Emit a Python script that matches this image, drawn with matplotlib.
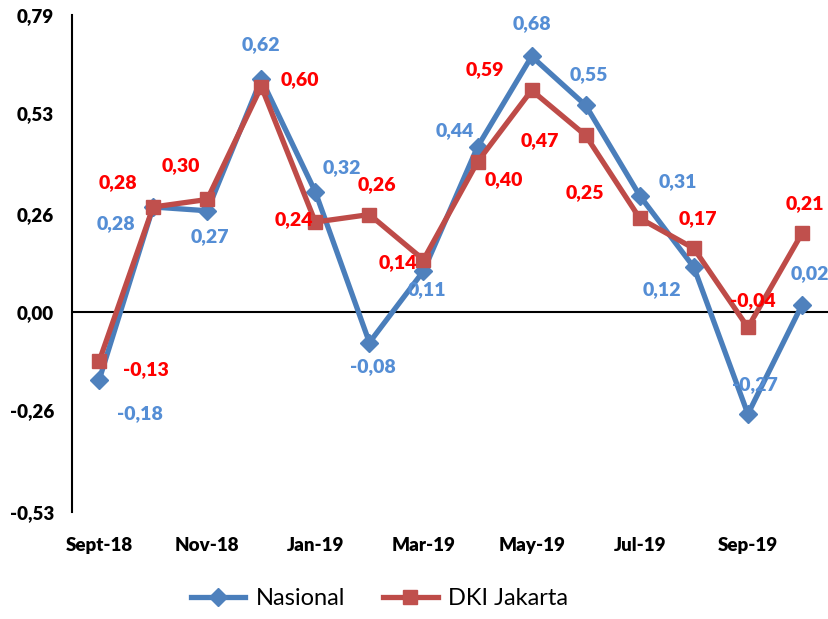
import matplotlib
matplotlib.use("Agg")
import matplotlib.pyplot as plt
from matplotlib.ticker import FixedLocator

plt.rcParams["font.family"] = ["Lato", "DejaVu Sans"]

# ---------------------------------------------------------------------------
# Dados
# ---------------------------------------------------------------------------
bulan = ["Sept-18", "Oct-18", "Nov-18", "Dec-18", "Jan-19", "Feb-19", "Mar-19",
         "Apr-19", "May-19", "Jun-19", "Jul-19", "Aug-19", "Sep-19", "Oct-19"]
nasional = [-0.18, 0.28, 0.27, 0.62, 0.32, -0.08, 0.11, 0.44, 0.68, 0.55,
            0.31, 0.12, -0.27, 0.02]
dki = [-0.13, 0.28, 0.30, 0.60, 0.24, 0.26, 0.14, 0.40, 0.59, 0.47,
       0.25, 0.17, -0.04, 0.21]
y_ticks = [-0.53, -0.26, 0.00, 0.26, 0.53, 0.79]

# posisi label (offset dalam pixel: dx, dy ke bawah)
off_nas = [(41, 33), (-37, 17), (3, 26), (0, -34), (27, -24), (3, 24), (3, 19),
           (-23, -16), (0, -33), (3, -31), (38, -14), (-32, 22), (7, -29), (8, -31)]
off_dki = [(47, 8), (-35, -24), (-26, -34), (39, -7), (-21, -2), (8, -30), (-26, 3),
           (26, 18), (-47, -21), (-46, 5), (-55, -26), (4, -30), (5, -27), (3, -30)]

fmt = lambda v: f"{v:.2f}".replace(".", ",")

fig = plt.figure(figsize=(8.29, 6.19), dpi=100)
ax = fig.add_axes([0.0869, 0.1729, 0.9131, 0.8029])

x = list(range(len(bulan)))
ax.axhline(0, color="black", lw=1.5, zorder=1)
ax.plot(x, nasional, color="#4A7EBB", lw=3.8, marker="D", ms=9,
        mfc="#4F81BD", mec="#4F81BD", label="Nasional", zorder=3)
ax.plot(x, dki, color="#BE4B48", lw=3.8, marker="s", ms=10,
        mfc="#C0504D", mec="#C0504D", label="DKI Jakarta", zorder=4)

for i, v in enumerate(nasional):
    dx, dy = off_nas[i]
    ax.annotate(fmt(v), (i, v), xytext=(dx * 0.72, -dy * 0.72), textcoords="offset points",
                ha="center", va="center", fontsize=14, fontweight="heavy",
                color="#558ED5", zorder=5)
for i, v in enumerate(dki):
    dx, dy = off_dki[i]
    ax.annotate(fmt(v), (i, v), xytext=(dx * 0.72, -dy * 0.72), textcoords="offset points",
                ha="center", va="center", fontsize=14, fontweight="heavy",
                color="#FF0000", zorder=5)

ax.set_xlim(-0.5, len(bulan) - 0.5)
ax.set_ylim(y_ticks[0], y_ticks[-1])
ax.yaxis.set_major_locator(FixedLocator(y_ticks))
ax.set_yticklabels([fmt(t) for t in y_ticks])
ax.set_xticks(x[::2])
ax.set_xticklabels(bulan[::2])
ax.tick_params(axis="both", length=0, labelsize=13.5)
ax.tick_params(axis="y", pad=13)
ax.tick_params(axis="x", pad=18)
for lbl in ax.get_xticklabels() + ax.get_yticklabels():
    lbl.set_fontweight("heavy")

for s in ["top", "right", "bottom"]:
    ax.spines[s].set_visible(False)
ax.spines["left"].set_linewidth(1.5)

fig.legend(loc="lower center", bbox_to_anchor=(0.458, -0.018), ncol=2, frameon=False,
           fontsize=17, handlelength=2.3, handletextpad=0.45, columnspacing=1.6)

fig.savefig("out.png", dpi=100)
